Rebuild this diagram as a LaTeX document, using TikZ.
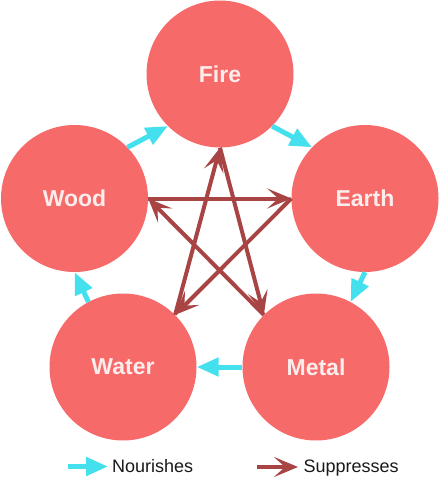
\documentclass[tikz,border=0pt]{standalone}
\usepackage{fontspec}
\setmainfont{Liberation Sans}
\usetikzlibrary{arrows.meta}
\definecolor{circ}{HTML}{F76A6A}
\definecolor{nour}{HTML}{45E0EE}
\definecolor{supp}{HTML}{A84444}
\definecolor{lbl}{HTML}{FCEDED}
\begin{document}
\begin{tikzpicture}[x=1pt,y=-1pt,
 element/.style={circle,fill=circ,minimum size=147pt,inner sep=0pt,text=lbl,font=\bfseries\fontsize{23}{27}\selectfont},
 nourish/.style={draw=nour,line width=5pt,-{Triangle[length=22pt,width=18pt]}},
 suppress/.style={draw=supp,line width=4pt,-{Stealth[length=24pt,width=20pt,inset=11pt]}},
 legendtext/.style={anchor=base west,inner sep=0pt,font=\fontsize{18}{22}\selectfont,text=black!90}]
\useasboundingbox (0,0) rectangle (440,478);
\node[element] (fire)  at (220,74)    {Fire};
\node[element] (wood)  at (74.5,198.5) {Wood};
\node[element] (earth) at (365,198.5) {Earth};
\node[element] (water) at (123,367)   {Water};
\node[element] (metal) at (316,367)   {Metal};
% nourishing cycle
\draw[nourish] (wood.44) -- (fire.225);
\draw[nourish] (fire.315) -- (earth.136);
\draw[nourish] (earth.270) -- (metal.62);
\draw[nourish] (metal.180) -- (water.0);
\draw[nourish] (water.118) -- (wood.270);
% suppressing cycle
\draw[suppress] (wood.0) -- (earth.180);
\draw[suppress] (earth.180) -- (water.45);
\draw[suppress] (water.45) -- (fire.270);
\draw[suppress] (fire.270) -- (metal.135);
\draw[suppress] (metal.135) -- (wood.0);
% legend
\coordinate (n1) at (68,466.5);
\coordinate (n2) at (108,466.5);
\coordinate (s1) at (257,467);
\coordinate (s2) at (298,467);
\draw[nourish] (n1) -- (n2);
\draw[suppress] (s1) -- (s2);
\node[legendtext] (ntext) at (112,472.3) {Nourishes};
\node[legendtext] (stext) at (303.5,472.3) {Suppresses};
\end{tikzpicture}
\end{document}
